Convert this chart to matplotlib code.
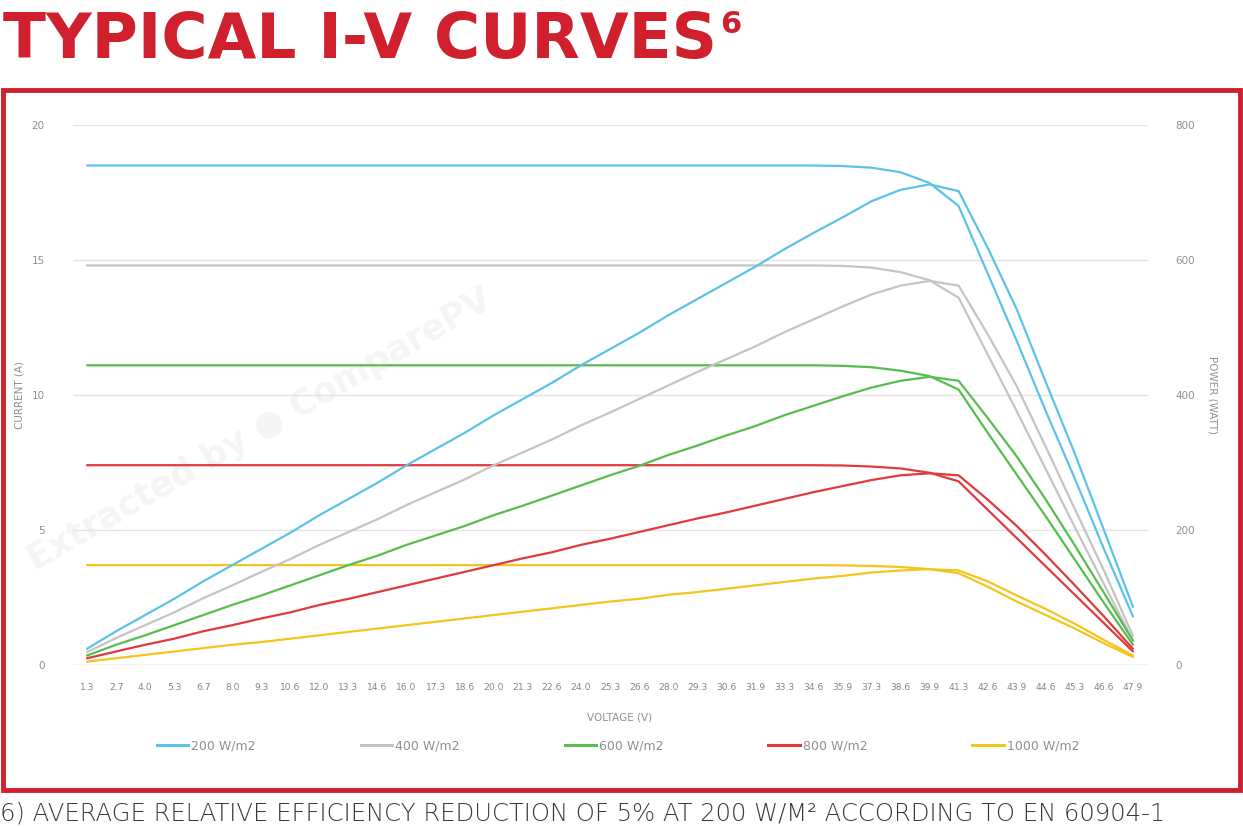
import matplotlib
matplotlib.use('Agg')
import matplotlib.pyplot as plt
from matplotlib.patches import Rectangle
from matplotlib.lines import Line2D

# --- Datos ---
voltaje = ['1.3', '2.7', '4.0', '5.3', '6.7', '8.0', '9.3', '10.6', '12.0', '13.3',
           '14.6', '16.0', '17.3', '18.6', '20.0', '21.3', '22.6', '24.0', '25.3', '26.6',
           '28.0', '29.3', '30.6', '31.9', '33.3', '34.6', '35.9', '37.3', '38.6', '39.9',
           '41.3', '42.6', '43.9', '44.6', '45.3', '46.6', '47.9']

etiquetas = ['200 W/m2', '400 W/m2', '600 W/m2', '800 W/m2', '1000 W/m2']
colores = ['#5bc2ea', '#c4c4c4', '#56bd4e', '#e0393e', '#f4c51c']

# corriente (A)
i_azul = [18.5] * 26 + [18.48, 18.42, 18.25, 17.85, 17.0, 14.5, 12.0, 9.4, 6.9, 4.3, 1.8]
i_gris = [14.8] * 26 + [14.78, 14.72, 14.55, 14.25, 13.6, 11.5, 9.4, 7.25, 5.1, 3.0, 0.9]
i_verde = [11.1] * 26 + [11.08, 11.03, 10.9, 10.7, 10.2, 8.6, 7.05, 5.5, 3.9, 2.3, 0.75]
i_rojo = [7.4] * 26 + [7.39, 7.35, 7.28, 7.12, 6.8, 5.75, 4.7, 3.65, 2.6, 1.55, 0.5]
i_amarillo = [3.7] * 26 + [3.69, 3.67, 3.63, 3.55, 3.4, 2.9, 2.35, 1.85, 1.35, 0.8, 0.3]

# potencia (W)
p_azul = [24, 50, 74, 98, 124, 148, 172, 196, 222, 246, 270, 296, 320, 344, 370, 394,
          418, 444, 468, 492, 518, 542, 566, 590, 616, 640, 663, 687, 704, 712, 702,
          618, 527, 419, 313, 200, 86]
p_gris = [19, 40, 59, 78, 99, 118, 138, 157, 178, 197, 216, 237, 256, 275, 296, 315,
          334, 355, 374, 394, 414, 434, 453, 472, 493, 512, 531, 549, 562, 569, 562,
          490, 413, 323, 231, 140, 43]
p_verde = [14, 30, 44, 59, 74, 89, 103, 118, 133, 148, 162, 178, 192, 206, 222, 236,
           251, 266, 281, 295, 311, 325, 340, 354, 370, 384, 398, 411, 421, 427, 421,
           366, 309, 245, 177, 107, 36]
p_rojo = [10, 20, 30, 39, 50, 59, 69, 78, 89, 98, 108, 118, 128, 138, 148, 158,
          167, 178, 187, 197, 207, 217, 226, 236, 246, 256, 265, 274, 281, 284, 281,
          245, 206, 163, 118, 72, 24]
p_amarillo = [5, 10, 15, 20, 25, 30, 34, 39, 44, 49, 54, 59, 64, 69, 74, 79,
              84, 89, 94, 98, 104, 108, 113, 118, 123, 128, 132, 137, 140, 142, 140,
              124, 103, 83, 61, 37, 14]

corrientes = [i_azul, i_gris, i_verde, i_rojo, i_amarillo]
potencias = [p_azul, p_gris, p_verde, p_rojo, p_amarillo]

rojo_titulo = '#d0202e'
gris_txt = '#8f8f8f'

fig = plt.figure(figsize=(12.43, 8.27), dpi=100)
W, H = 1243, 827

ax = fig.add_axes([72.5 / W, 1 - 665 / H, 1075 / W, 540 / H])
ax2 = ax.twinx()
ax.set_facecolor('none')
ax2.set_facecolor('none')

x = list(range(len(voltaje)))
for ic, pc, col in zip(corrientes, potencias, colores):
    ax.plot(x, ic, color=col, lw=1.6, solid_capstyle='round', zorder=3)
    ax2.plot(x, pc, color=col, lw=1.6, solid_capstyle='round', zorder=3)

ax.set_xlim(-0.5, len(voltaje) - 0.5)
ax.set_ylim(0, 20)
ax2.set_ylim(0, 800)
ax.set_yticks([0, 5, 10, 15, 20])
ax2.set_yticks([0, 200, 400, 600, 800])
ax.set_xticks(x)
ax.set_xticklabels(voltaje, fontsize=6.6, color='#858585')
ax.grid(axis='y', color='#e4e4e4', lw=1)
ax.set_axisbelow(True)
for a in (ax, ax2):
    for s in a.spines.values():
        s.set_visible(False)
ax.tick_params(axis='x', length=0, pad=13)
ax.tick_params(axis='y', length=0, pad=20, labelsize=7.5, labelcolor=gris_txt)
ax2.tick_params(axis='y', length=0, pad=20, labelsize=7.5, labelcolor=gris_txt)
ax.axhline(0, color='#d9d9d9', lw=1)

# Títulos de ejes
fig.text(620 / W, 1 - 718 / H, 'VOLTAGE (V)', ha='center', va='center', fontsize=7.5, color=gris_txt)
fig.text(20 / W, 1 - 395 / H, 'CURRENT (A)', ha='center', va='center', rotation=90,
         fontsize=7.5, color=gris_txt)
fig.text(1212 / W, 1 - 395 / H, 'POWER (WATT)', ha='center', va='center', rotation=270,
         fontsize=7.5, color=gris_txt)

# Leyenda
handles = [Line2D([], [], color=c, lw=2.2) for c in colores]
fig.legend(handles, etiquetas, loc='center', bbox_to_anchor=(618 / W, 1 - 746 / H), ncol=5,
           frameon=False, fontsize=9, labelcolor=gris_txt, handlelength=2.5,
           handletextpad=0.25, columnspacing=8.4)

# Marca de agua
fig.text(260 / W, 1 - 430 / H, 'Extracted by \u25CF ComparePV', ha='center', va='center',
         rotation=30, fontsize=25, fontweight='bold', color='#f4f4f4', zorder=-1)

# Marco rojo
fig.patches.append(Rectangle((3 / W, 1 - 790 / H), 1237 / W, 700 / H, transform=fig.transFigure,
                             fill=False, edgecolor=rojo_titulo, lw=3.5))

# Título y nota, ajustados al ancho del original
t = fig.text(3 / W, 1 - 58 / H, 'TYPICAL I-V CURVES', ha='left', va='baseline',
             fontsize=45, fontweight='bold', family='DejaVu Sans', color=rojo_titulo)
nota = fig.text(0, 1 - 821 / H,
                '6) AVERAGE RELATIVE EFFICIENCY REDUCTION OF 5% AT 200 W/M\u00B2 ACCORDING TO EN 60904-1',
                ha='left', va='baseline', fontsize=16.5, fontweight='light', family='DejaVu Sans',
                color='#3a3a3a')
fig.canvas.draw()
r = fig.canvas.get_renderer()
t.set_fontsize(45 * 714 / t.get_window_extent(r).width)
nota.set_fontsize(16.5 * 1157 / nota.get_window_extent(r).width)
fig.canvas.draw()
bb = t.get_window_extent(r)
fig.text(bb.x1 / W + 3 / W, 1 - 33 / H, '6', ha='left', va='baseline', fontsize=22,
         fontweight='bold', family='DejaVu Sans', color=rojo_titulo)

fig.savefig('out.png', dpi=100)
